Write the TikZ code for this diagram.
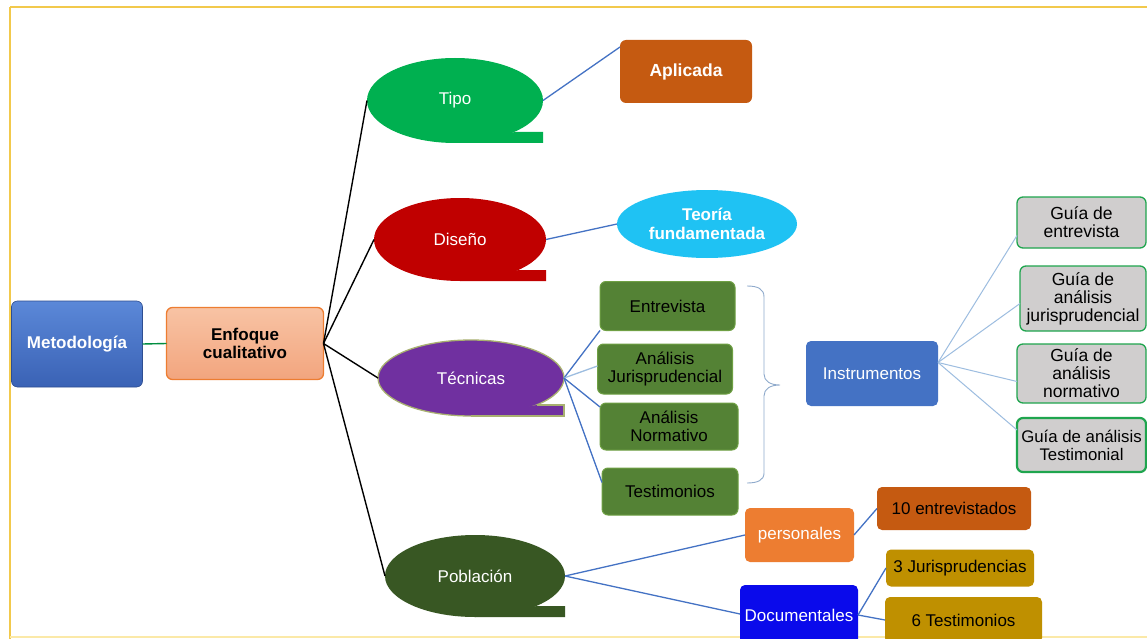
\documentclass[tikz,border=0pt]{standalone}
\usepackage{fontspec}
\setmainfont{Liberation Sans}
\usetikzlibrary{shapes.geometric,calc,shadings}
\definecolor{cGold}{HTML}{F2C94C}
\definecolor{cGoldL}{HTML}{FBE9A8}
\definecolor{cMetT}{HTML}{5B88D8}
\definecolor{cMetB}{HTML}{3A62B5}
\definecolor{cEnfT}{HTML}{F8C3A4}
\definecolor{cEnfB}{HTML}{F2A57E}
\definecolor{cEnfD}{HTML}{ED7D31}
\definecolor{cTipo}{HTML}{00B050}
\definecolor{cDis}{HTML}{C00000}
\definecolor{cTec}{HTML}{7030A0}
\definecolor{cTecB}{HTML}{A8B070}
\definecolor{cPob}{HTML}{385723}
\definecolor{cBrown}{HTML}{C55A11}
\definecolor{cSky}{HTML}{1FC2F3}
\definecolor{cGr}{HTML}{548235}
\definecolor{cGrB}{HTML}{6FA044}
\definecolor{cBlue}{HTML}{4472C4}
\definecolor{cGray}{HTML}{D0CECE}
\definecolor{cGrayB}{HTML}{1FA54E}
\definecolor{cOr}{HTML}{ED7D31}
\definecolor{cDoc}{HTML}{0A0AEB}
\definecolor{cOcre}{HTML}{BF9000}
\definecolor{cLine}{HTML}{4472C4}
\definecolor{cLineL}{HTML}{9DBDE0}
\definecolor{cBrace}{HTML}{8FAACC}
\newcommand\ctail[3]{%
  \coordinate (#1-c) at (#1.east |- #1.south);
  \fill[#2] ($(#1-c)+(-#3,-11)$) -- ($(#1-c)+(0,-11)$) -- (#1-c) -- (#1.south) -- cycle;}
\begin{document}
\begin{tikzpicture}[x=1pt,y=-1pt,
  every node/.style={font=\fontsize{17}{18.5}\selectfont, align=center, inner sep=2pt, outer sep=0pt},
  rbox/.style={rectangle, rounded corners=6pt},
  ell/.style={ellipse, text=white},
  gbox/.style={rbox, fill=cGr, draw=cGrB, line width=1pt, text=black},
  graybox/.style={rbox, fill=cGray, draw=cGrayB, line width=1.3pt, text=black, font=\fontsize{17.5}{18}\selectfont},
  blk/.style={draw=black, line width=1.4pt},
  bln/.style={draw=cLine, line width=1.3pt},
  blnl/.style={draw=cLineL, line width=1pt}]
\useasboundingbox (0,0) rectangle (1147,639);
\clip (0,0) rectangle (1147,639);
\fill[white] (0,0) rectangle (1147,639);
% frame
\draw[cGold, line width=2pt] (10,7) -- (1147,7);
\draw[cGold, line width=2pt] (10,7) -- (10,639);
\draw[cGoldL, line width=2pt] (10,637) -- (1147,637);

% main nodes
\node[rbox, top color=cMetT, bottom color=cMetB, draw=cMetB!80!black, line width=0.6pt, text=white, font=\bfseries\fontsize{17}{18.5}\selectfont, minimum width=131pt, minimum height=86pt] (met) at (77,344) {Metodología};
\node[rbox, top color=cEnfT, bottom color=cEnfB, draw=cEnfD, line width=1.3pt, text=black, font=\bfseries\fontsize{17}{18}\selectfont, minimum width=157pt, minimum height=72pt] (enf) at (245,343.5) {Enfoque\\cualitativo};

% ellipses with tails
\node[ell, fill=cTipo, minimum width=176pt, minimum height=85pt] (tipo) at (455,100.5) {Tipo};
\ctail{tipo}{cTipo}{28}
\node[ell, fill=cDis, minimum width=172pt, minimum height=83pt] (dis) at (460,239.5) {Diseño};
\ctail{dis}{cDis}{27}
\node[ell, fill=cTec, draw=cTecB, line width=1.3pt, minimum width=186pt, minimum height=76pt] (tec) at (471,378) {Técnicas};
\ctail{tec}{cTec}{27}
\draw[cTecB, line width=1.3pt] ($(tec-c)+(-27,-11)$) -- ($(tec-c)+(0,-11)$) -- (tec-c) -- (tec.south);
\node[ell, fill=cPob, minimum width=180pt, minimum height=82pt] (pob) at (475,576) {Población};
\ctail{pob}{cPob}{28}

% Tipo / Diseño children
\node[rbox, fill=cBrown, text=white, font=\bfseries\fontsize{17.5}{19}\selectfont, minimum width=132pt, minimum height=63pt] (apl) at (686,71.5) {Aplicada};
\node[ellipse, fill=cSky, text=white, font=\bfseries\fontsize{17}{18.5}\selectfont, minimum width=180pt, minimum height=68pt] (teo) at (707,224) {Teoría\\fundamentada};

% Técnicas children
\node[gbox, minimum width=135pt, minimum height=49pt] (ent) at (667.5,306) {Entrevista};
\node[gbox, minimum width=135pt, minimum height=50pt] (aj) at (665,369) {Análisis\\Jurisprudencial};
\node[gbox, minimum width=138pt, minimum height=47pt] (an) at (669,426.5) {Análisis\\Normativo};
\node[gbox, minimum width=136pt, minimum height=47pt] (tes) at (670,491.5) {Testimonios};

% brace
\draw[cBrace, line width=0.9pt] (747,286) .. controls (758,286) and (764,289) .. (764,297) -- (764,374) .. controls (764,381) and (770,385) .. (780,385) .. controls (770,385) and (764,389) .. (764,396) -- (764,473) .. controls (764,480) and (758,483) .. (747,483);

% Instrumentos
\node[rbox, rounded corners=5pt, fill=cBlue, text=white, minimum width=132pt, minimum height=65pt] (ins) at (872,373.5) {Instrumentos};
\node[graybox, minimum width=129pt, minimum height=51pt] (g1) at (1081.5,222.5) {Guía de\\entrevista};
\node[graybox, inner sep=0pt, minimum width=126pt, minimum height=65pt] (g2) at (1083,298.5) {Guía de\\análisis\\jurisprudencial};
\node[graybox, minimum width=129pt, minimum height=59pt] (g3) at (1081.5,373.5) {Guía de\\análisis\\normativo};
\node[graybox, line width=2.2pt, inner sep=0pt, font=\fontsize{16.8}{18}\selectfont, minimum width=129pt, minimum height=54pt] (g4) at (1081.5,445) {Guía de análisis\\Testimonial};

% Población children
\node[rbox, rounded corners=5pt, fill=cOr, text=white, minimum width=109pt, minimum height=54pt] (per) at (799.5,535) {personales};
\node[rbox, rounded corners=5pt, fill=cDoc, text=white, minimum width=118pt, minimum height=60pt] (doc) at (799,615) {Documentales};
\node[rbox, rounded corners=5pt, fill=cBrown, text=black, minimum width=154pt, minimum height=43pt] (e10) at (954,508.5) {10 entrevistados};
\node[rbox, rounded corners=5pt, fill=cOcre, text=black, minimum width=148pt, minimum height=37pt] (j3) at (960,568) {3 Jurisprudencias};
\node[rbox, rounded corners=5pt, fill=cOcre, text=black, minimum width=157pt, minimum height=46pt] (t6) at (963.5,620) {6 Testimonios};

% connectors
\draw[draw=cTipo!80!black, line width=1.4pt] (met.east) -- (enf.west);
\draw[blk] (enf.east) -- (tipo.west);
\draw[blk] (enf.east) -- (dis.west);
\draw[blk] (enf.east) -- (tec.west);
\draw[blk] (enf.east) -- (pob.west);
\draw[bln] (tipo.east) -- ($(apl.north west)+(0,7)$);
\draw[bln] (dis.east) -- (teo.west);
\draw[bln] (tec.east) -- (ent.south west);
\draw[bln, draw=cLineL] (tec.east) -- ($(aj.west)+(0,-3)$);
\draw[bln] (tec.east) -- ($(an.north west)+(0,4)$);
\draw[bln] (tec.east) -- ($(tes.west)+(0,-9)$);
\coordinate (insp) at ($(ins.east)+(0,-11)$);
\draw[blnl] (insp) -- ($(g1.west)+(0,13)$);
\draw[blnl] (insp) -- ($(g2.west)+(0,5)$);
\draw[blnl] (insp) -- ($(g3.west)+(0,8)$);
\draw[blnl] (insp) -- ($(g4.west)+(0,-15)$);
\draw[bln] (pob.east) -- (per.west);
\draw[bln] (pob.east) -- ($(doc.west)+(0,-1)$);
\draw[bln] (per.east) -- (e10.west);
\draw[bln] (doc.east) -- (j3.west);
\draw[bln] (doc.east) -- (t6.west);
\end{tikzpicture}
\end{document}
